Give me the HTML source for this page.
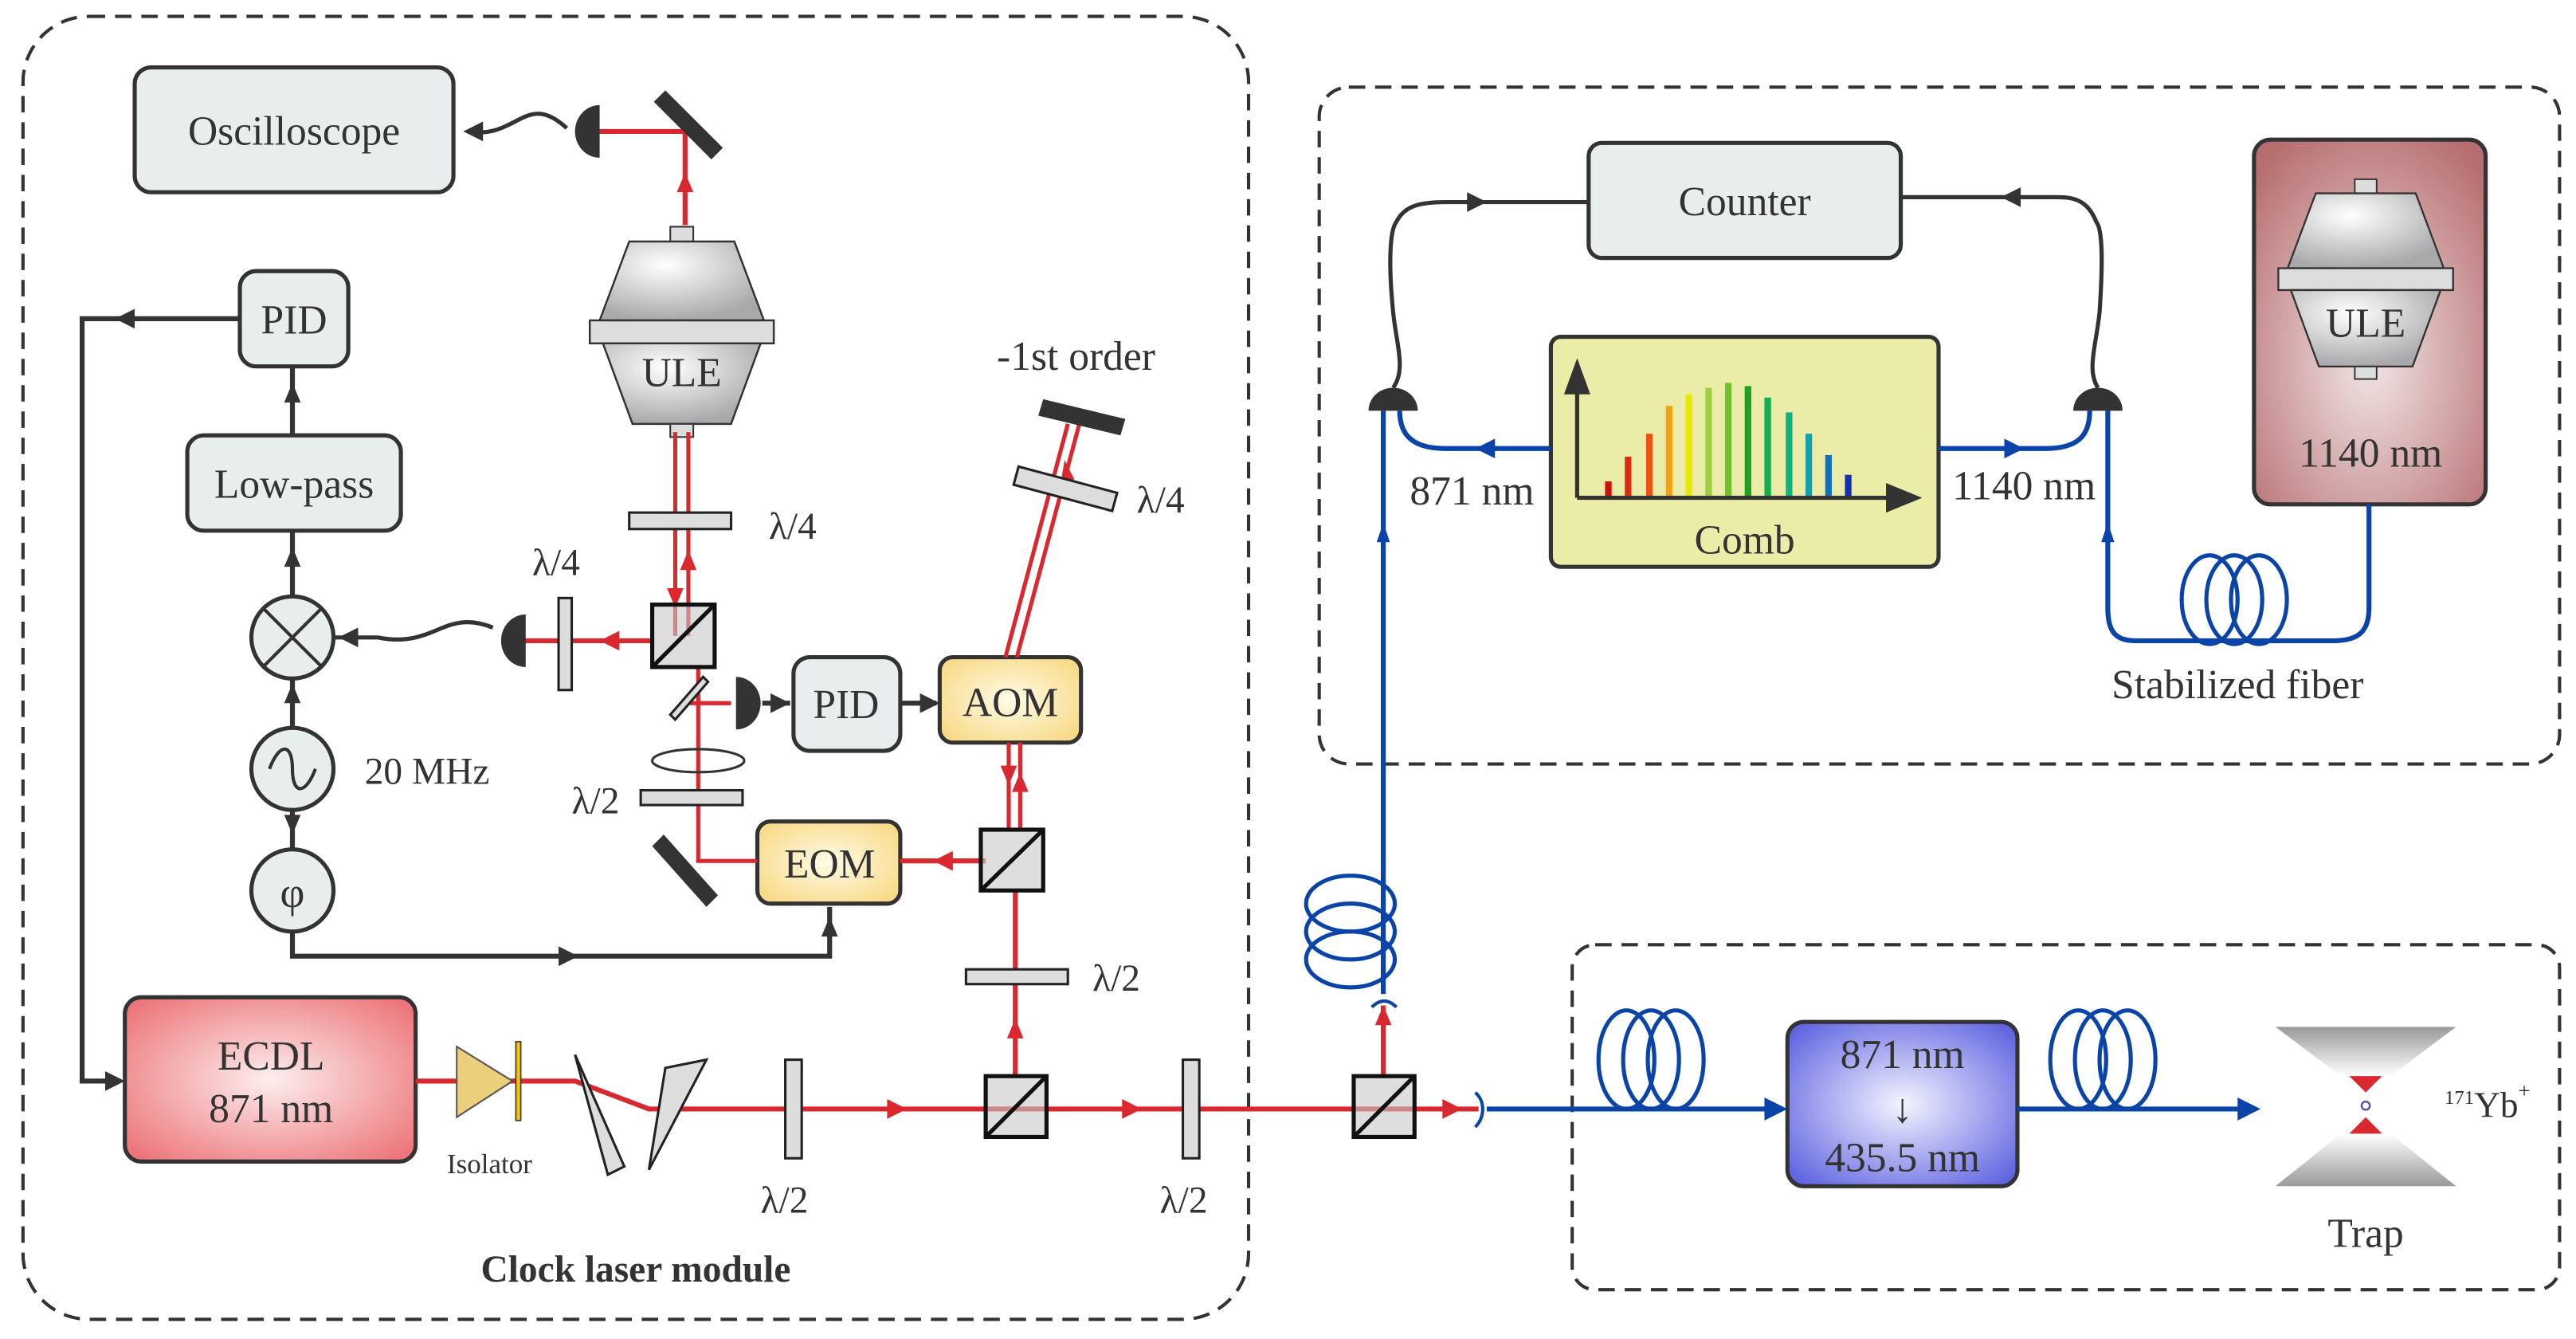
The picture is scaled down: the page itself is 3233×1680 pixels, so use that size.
<!DOCTYPE html>
<html><head><meta charset="utf-8"><style>
html,body{margin:0;padding:0;background:#fff;}
svg{display:block;}
svg text{font-family:"Liberation Serif","DejaVu Serif",serif;fill:#333;}
</style></head><body>
<svg width="3233" height="1680" viewBox="0 0 1568 815" preserveAspectRatio="none" xmlns="http://www.w3.org/2000/svg" font-family="Liberation Serif, DejaVu Serif, serif">
<defs>
<radialGradient id="gr" cx="50%" cy="50%" r="65%"><stop offset="0" stop-color="#fdeeee"/><stop offset="1" stop-color="#ec7579"/></radialGradient>
<radialGradient id="gb" cx="50%" cy="50%" r="65%"><stop offset="0" stop-color="#f4f4ff"/><stop offset="1" stop-color="#5f64e0"/></radialGradient>
<radialGradient id="gy" cx="50%" cy="50%" r="70%"><stop offset="0" stop-color="#fffbe6"/><stop offset="1" stop-color="#f7d57a"/></radialGradient>
<radialGradient id="gm" cx="50%" cy="60%" r="70%"><stop offset="0" stop-color="#f1e6e6"/><stop offset="1" stop-color="#b76e70"/></radialGradient>
<radialGradient id="gs" cx="40%" cy="30%" r="70%"><stop offset="0" stop-color="#ffffff"/><stop offset="1" stop-color="#a9a9ab"/></radialGradient>
<linearGradient id="gt" x1="0" y1="0" x2="0" y2="1"><stop offset="0" stop-color="#fff"/><stop offset="1" stop-color="#999"/></linearGradient>
<linearGradient id="gt2" x1="0" y1="1" x2="0" y2="0"><stop offset="0" stop-color="#fff"/><stop offset="1" stop-color="#999"/></linearGradient>
<g id="cav">
<rect x="-7" y="-62" width="14" height="9" fill="#ddd" stroke="#333" stroke-width="1"/>
<path d="M-32,-53 L32,-53 L50,-5 L-50,-5 Z" fill="url(#gs)" stroke="#333" stroke-width="1.2"/>
<rect x="-56" y="-5" width="112" height="14" fill="#ddd" stroke="#333" stroke-width="1.2"/>
<path d="M-48,9 L48,9 L30,58 L-30,58 Z" fill="url(#gs)" stroke="#333" stroke-width="1.2"/>
<rect x="-7" y="58" width="14" height="8" fill="#ddd" stroke="#333" stroke-width="1"/>
</g>
</defs>

<g fill="none" stroke="#333" stroke-width="2" stroke-dasharray="10,6">
<rect x="14" y="10" width="746" height="793" rx="40"/>
<rect x="803" y="53" width="755" height="412" rx="18"/>
<rect x="957" y="575" width="601" height="210" rx="14"/>
</g>

<g fill="none" stroke="#333" stroke-width="3">
<path d="M146,194 L50,194 L50,658 L70,658"/>
<path d="M178,265 L178,223"/>
<path d="M178,363 L178,323"/>
<path d="M178,443 L178,413"/>
<path d="M178,493 L178,517"/>
<path d="M178,567 L178,582 L505,582 L505,552"/>
<path d="M204,388 L230,388 C265,395 270,370 300,382" stroke-width="2.5"/>
<path d="M285,80 C315,85 320,55 345,78" stroke-width="2.5"/>
<path d="M464,428 L481,428"/>
<path d="M548,428 L570,428"/>
</g>
<g fill="#333">
<path d="M70,194 l12,-6 0,12z"/>
<path d="M76,658 l-12,-6 0,12z"/>
<path d="M178,233 l-5,12 10,0z"/>
<path d="M178,333 l-5,12 10,0z"/>
<path d="M178,416 l-5,12 10,0z"/>
<path d="M178,508 l-5,-12 10,0z"/>
<path d="M352,582 l-12,-6 0,12z"/>
<path d="M505,558 l-5,12 10,0z"/>
<path d="M206,388 l12,-6 0,12z"/>
<path d="M282,80 l12,-6 0,12z"/>
<path d="M481,428 l-12,-6 0,12z"/>
<path d="M572,428 l-12,-6 0,12z"/>
</g>

<g stroke="#333" stroke-width="2.5">
<rect x="82" y="41" width="194" height="76" rx="10" fill="#e7eeed"/>
<rect x="146" y="165" width="66" height="58" rx="10" fill="#e7eeed"/>
<rect x="114" y="265" width="130" height="58" rx="10" fill="#e7eeed"/>
<ellipse cx="178" cy="388" rx="25" ry="25" fill="#e7eeed"/>
<ellipse cx="178" cy="468" rx="25" ry="25" fill="#e7eeed"/>
<ellipse cx="178" cy="542" rx="25" ry="25" fill="#e7eeed"/>
<rect x="483" y="400" width="65" height="57" rx="10" fill="#e7eeed"/>
<rect x="572" y="400" width="86" height="52" rx="8" fill="url(#gy)"/>
<rect x="461" y="500" width="87" height="50" rx="8" fill="url(#gy)"/>
<rect x="76" y="607" width="177" height="100" rx="10" fill="url(#gr)"/>
<rect x="1088" y="622" width="140" height="100" rx="10" fill="url(#gb)"/>
<rect x="967" y="87" width="190" height="70" rx="8" fill="#e7eeed"/>
<rect x="944" y="205" width="236" height="140" rx="6" fill="#eaeca8"/>
<rect x="1372" y="85" width="141" height="222" rx="10" fill="url(#gm)"/>
</g>
<path d="M160,370 L196,406 M196,370 L160,406" stroke="#333" stroke-width="2"/>
<path d="M164,468 C170,452 178,452 178,468 C178,484 186,484 192,468" fill="none" stroke="#333" stroke-width="2"/>

<use href="#cav" transform="translate(415,200)"/>
<use href="#cav" transform="translate(1440,168) scale(0.95)"/>

<g fill="none" stroke="#d9282f" stroke-width="3">
<path d="M360,80 L417,80 L417,137"/>
<path d="M411,263 L411,387 M419,263 L419,387" stroke-width="2.5"/>
<path d="M397,390 L310,390"/>
<path d="M425,406 L425,524 L461,524" stroke-width="2.5"/>
<path d="M420,428 L445,428" stroke-width="2.5"/>
<path d="M548,524 L600,524"/>
<path d="M614,505 L614,452 M621,505 L621,452" stroke-width="2.5"/>
<path d="M612,400 L650,258 M619,400 L657,258" stroke-width="2.5"/>
<path d="M618,655 L618,542"/>
<path d="M253,658 L350,658 L395,675 L900,675"/>
<path d="M842,655 L842,612"/>
</g>
<g fill="#d9282f">
<path d="M417,105 l-5,12 10,0z"/>
<path d="M411,370 l-5,-12 10,0z"/><path d="M419,335 l-5,12 10,0z"/>
<path d="M365,390 l12,-6 0,12z"/>
<path d="M568,524 l12,-6 0,12z"/>
<path d="M614,478 l-5,-12 10,0z"/>
<path d="M621,470 l-5,12 10,0z"/>
<path d="M618,620 l-5,12 10,0z"/>
<path d="M552,675 l-12,-6 0,12z"/>
<path d="M695,675 l-12,-6 0,12z"/>
<path d="M890,675 l-12,-6 0,12z"/>
<path d="M842,612 l-5,12 10,0z"/>
<path d="M640,300 l-6,-11 10,2z"/><path d="M648,280 l-2,12 8,0z"/>
</g>

<g fill="#333">
<path d="M398,62 L405,55 L440,90 L433,97 Z"/>
<path d="M397,515 L404,508 L437,545 L430,552 Z"/>
<path d="M635,243 L685,255 L682,265 L632,253 Z"/>
</g>
<g fill="#333">
<path d="M365,64 A15,16 0 0 0 365,96 Z"/>
<path d="M320,374 A15,16 0 0 0 320,406 Z"/>
<path d="M448,412 A15,16 0 0 1 448,444 Z"/>
<path d="M833,250 A15,14 0 0 1 863,250 Z"/>
<path d="M1262,250 A15,14 0 0 1 1292,250 Z"/>
</g>
<g fill="#ddd" stroke="#222" stroke-width="1.5">
<rect x="383" y="312" width="62" height="10"/>
<rect x="340" y="364" width="8" height="56"/>
<rect x="390" y="481" width="62" height="9"/>
<path d="M408,435 L428,412 L431,415 L411,438 Z"/>
<rect x="588" y="590" width="62" height="9"/>
<rect x="478" y="645" width="10" height="60"/>
<rect x="720" y="645" width="10" height="60"/>
<path d="M620,284 L680,300 L677,311 L617,295 Z"/>
<path d="M350,642 L370,715 L380,710 Z"/>
<path d="M405,650 L430,645 L395,712 Z"/>
</g>
<ellipse cx="425" cy="463" rx="28" ry="7" fill="none" stroke="#333" stroke-width="1.5"/>
<g stroke="#111" stroke-width="2.5" fill="rgba(200,200,200,0.6)">
<rect x="397" y="368" width="38" height="38"/><path d="M397,406 L435,368" fill="none"/>
<rect x="597" y="505" width="38" height="37"/><path d="M597,542 L635,505" fill="none"/>
<rect x="600" y="655" width="37" height="37"/><path d="M600,692 L637,655" fill="none"/>
<rect x="824" y="655" width="37" height="37"/><path d="M824,692 L861,655" fill="none"/>
</g>
<path d="M278,637 L312,658 L278,680 Z" fill="#eccf7d" stroke="#555" stroke-width="1"/>
<rect x="314" y="634" width="3" height="48" fill="#f2c20a" stroke="#333" stroke-width="0.8"/>

<g fill="none" stroke="#0a44a8" stroke-width="3">
<path d="M905,675 L1085,675"/>
<path d="M1228,675 L1372,675"/>
<path d="M842,605 L842,250"/>
<path d="M944,273 L880,273 C860,273 852,265 852,250"/>
<path d="M1180,273 L1245,273 C1265,273 1272,265 1272,250"/>
<path d="M1442,307 L1442,370 C1442,385 1435,390 1420,390 L1300,390 C1288,390 1283,385 1283,370 L1283,250"/>
<ellipse cx="990" cy="645" rx="17" ry="30" stroke-width="2.5"/><ellipse cx="1005" cy="645" rx="17" ry="30" stroke-width="2.5"/><ellipse cx="1020" cy="645" rx="17" ry="30" stroke-width="2.5"/>
<ellipse cx="1265" cy="645" rx="17" ry="30" stroke-width="2.5"/><ellipse cx="1280" cy="645" rx="17" ry="30" stroke-width="2.5"/><ellipse cx="1295" cy="645" rx="17" ry="30" stroke-width="2.5"/>
<ellipse cx="1345" cy="365" rx="17" ry="27" stroke-width="2.5"/><ellipse cx="1360" cy="365" rx="17" ry="27" stroke-width="2.5"/><ellipse cx="1375" cy="365" rx="17" ry="27" stroke-width="2.5"/>
<ellipse cx="822" cy="550" rx="27" ry="17" stroke-width="2.5"/><ellipse cx="822" cy="567" rx="27" ry="17" stroke-width="2.5"/><ellipse cx="822" cy="584" rx="27" ry="17" stroke-width="2.5"/>
<path d="M898,665 C904,670 904,680 898,686" stroke-width="2"/>
<path d="M835,613 C840,608 845,608 850,613" stroke-width="2"/>
</g>
<g fill="#0a44a8">
<path d="M1088,675 l-14,-7 0,14z"/>
<path d="M1376,675 l-14,-7 0,14z"/>
<path d="M842,318 l-4,12 8,0z"/>
<path d="M1283,318 l-4,12 8,0z"/>
<path d="M898,273 l12,-6 0,12z"/>
<path d="M1232,273 l-12,-6 0,12z"/>
</g>

<g fill="none" stroke="#333" stroke-width="2.5">
<path d="M848,236 C856,225 850,210 848,190 C845,160 846,140 850,135 C855,125 865,123 880,123 L966,123"/>
<path d="M1277,236 C1270,225 1276,210 1278,190 C1280,160 1280,140 1276,135 C1270,120 1260,120 1250,120 L1157,120"/>
</g>
<path d="M905,123 l-12,-6 0,12z" fill="#333"/>
<path d="M1218,120 l12,-6 0,12z" fill="#333"/>

<g>
<rect x="977" y="293" width="4" height="10" fill="#cc1010"/>
<rect x="989" y="278" width="4" height="25" fill="#e02a10"/>
<rect x="1002" y="264" width="4" height="39" fill="#f04f10"/>
<rect x="1014" y="247" width="4" height="56" fill="#f5a010"/>
<rect x="1026" y="240" width="4" height="63" fill="#e8e800"/>
<rect x="1038" y="236" width="4" height="67" fill="#9cd040"/>
<rect x="1050" y="233" width="4" height="70" fill="#70c030"/>
<rect x="1062" y="235" width="4" height="68" fill="#20a020"/>
<rect x="1074" y="242" width="4" height="61" fill="#10b050"/>
<rect x="1087" y="251" width="4" height="52" fill="#10b080"/>
<rect x="1099" y="264" width="4" height="39" fill="#10a0b0"/>
<rect x="1111" y="277" width="4" height="26" fill="#1070c0"/>
<rect x="1123" y="289" width="4" height="14" fill="#1030b0"/>
<path d="M960,303 L1155,303 M960,303 L960,235" stroke="#333" stroke-width="2.5"/>
<path d="M1170,303 l-22,-9 0,18z M960,218 l-8,22 16,0z" fill="#333"/>
</g>

<path d="M1385,625 L1495,625 L1455,655 L1425,655 Z" fill="url(#gt2)"/>
<path d="M1385,722 L1495,722 L1455,690 L1425,690 Z" fill="url(#gt)"/>
<path d="M1430,655 L1450,655 L1440,665 Z" fill="#d9282f"/>
<path d="M1430,690 L1450,690 L1440,680 Z" fill="#d9282f"/>
<circle cx="1440" cy="673" r="2.5" fill="none" stroke="#5555aa" stroke-width="1.2"/>

<g font-size="25" text-anchor="middle" font-family="Liberation Serif, DejaVu Serif, serif">
<text x="179" y="88">Oscilloscope</text>
<text x="179" y="203">PID</text>
<text x="179" y="303">Low-pass</text>
<text x="415" y="235">ULE</text>
<text x="515" y="437">PID</text>
<text x="615" y="436">AOM</text>
<text x="505" y="534">EOM</text>
<text x="165" y="651">ECDL</text>
<text x="165" y="683">871 nm</text>
<text x="1158" y="650">871 nm</text>
<text x="1158" y="683">↓</text>
<text x="1158" y="713">435.5 nm</text>
<text x="1062" y="131">Counter</text>
<text x="1062" y="337">Comb</text>
<text x="1440" y="205">ULE</text>
<text x="1443" y="284">1140 nm</text>
<text x="896" y="307">871 nm</text>
<text x="1232" y="304">1140 nm</text>
<text x="1362" y="425">Stabilized fiber</text>
<text x="1440" y="759">Trap</text>
<text x="655" y="225">-1st order</text>
</g>
<g font-size="23" font-family="Liberation Serif, DejaVu Serif, serif">
<text x="222" y="477">20 MHz</text>
<text x="468" y="328">λ/4</text>
<text x="324" y="350">λ/4</text>
<text x="692" y="312">λ/4</text>
<text x="348" y="495">λ/2</text>
<text x="665" y="603">λ/2</text>
<text x="463" y="738">λ/2</text>
<text x="706" y="738">λ/2</text>
</g>
<text x="298" y="714" font-size="17" text-anchor="middle">Isolator</text>
<text x="178" y="552" font-size="26" text-anchor="middle">φ</text>
<text x="1488" y="680" font-size="22"><tspan font-size="12" dy="-8">171</tspan><tspan dy="8">Yb</tspan><tspan font-size="13" dy="-12">+</tspan></text>
<text x="387" y="780" font-size="23" font-weight="bold" text-anchor="middle">Clock laser module</text>
</svg>
</body></html>
